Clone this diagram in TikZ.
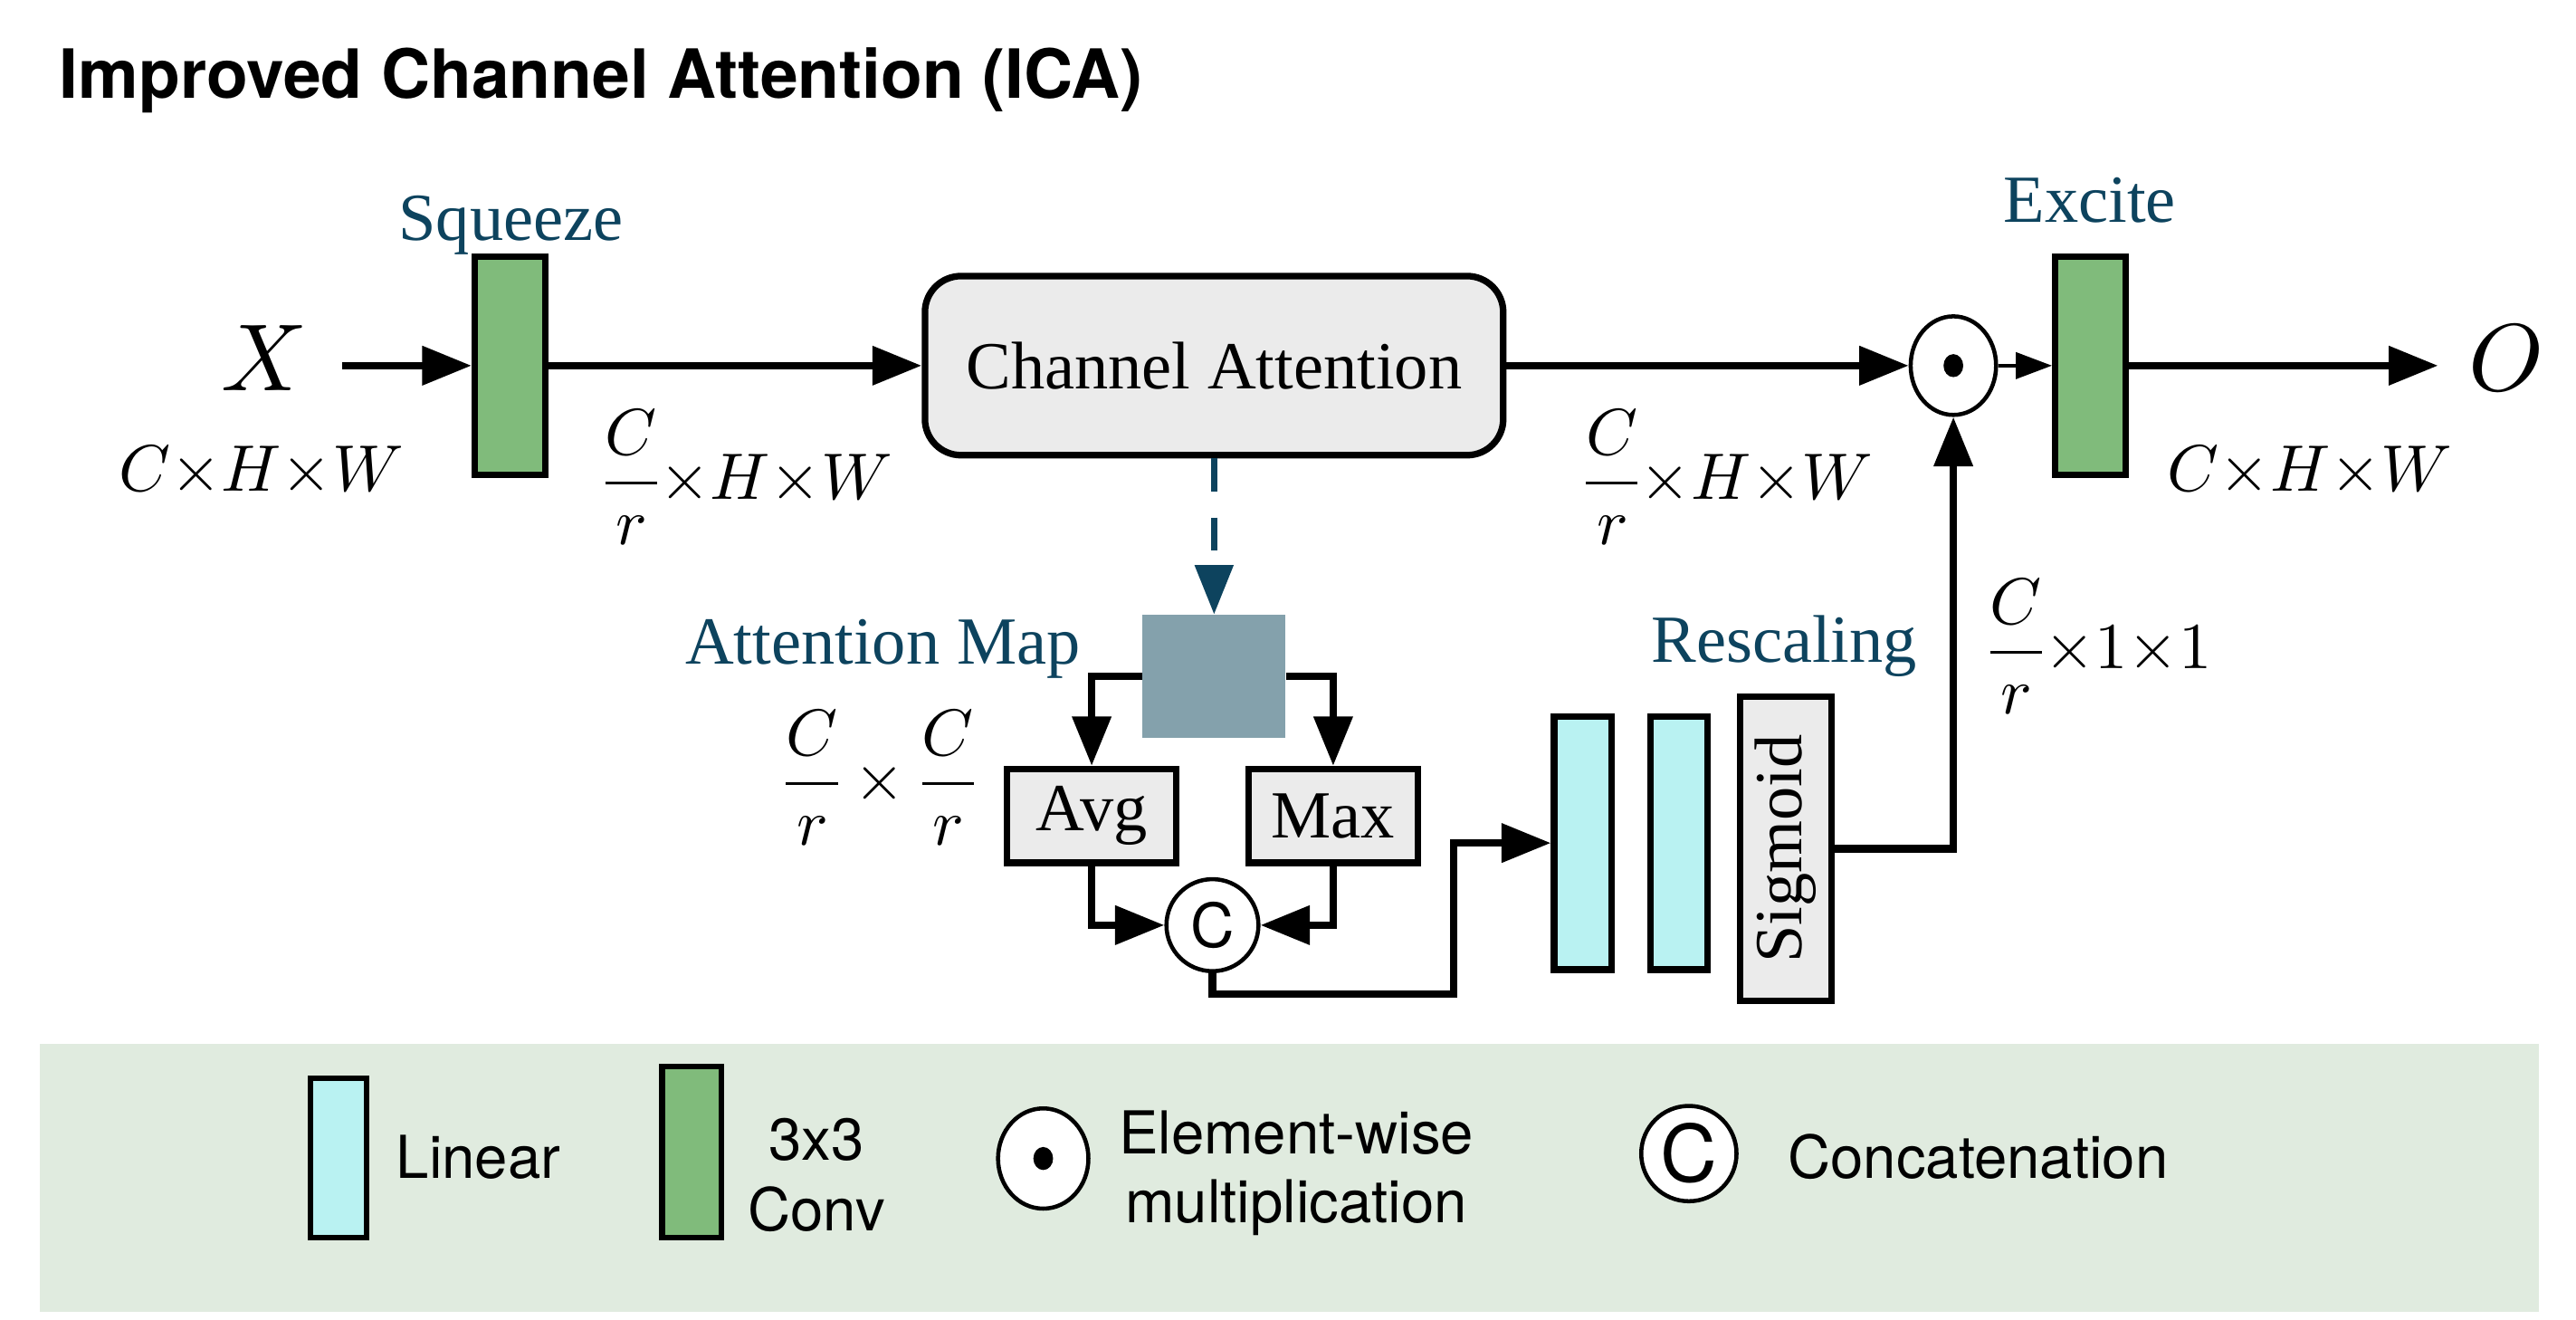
\documentclass[tikz,border=0pt]{standalone}
\usepackage{fontspec}
\usepackage{unicode-math}
\setmainfont{Liberation Serif}
\setmathfont{Latin Modern Math}
\newfontfamily\hel{TeX Gyre Heros}
\usetikzlibrary{arrows.meta,shapes.geometric}
\definecolor{tealtxt}{RGB}{13,67,94}
\definecolor{convgreen}{RGB}{128,187,123}
\definecolor{lincyan}{RGB}{185,242,242}
\definecolor{boxgray}{RGB}{235,235,235}
\definecolor{mapblue}{RGB}{132,161,172}
\definecolor{legbg}{RGB}{224,235,223}
\begin{document}
\begin{tikzpicture}[x=1pt,y=-1pt,
  arr/.style={-{Triangle[length=30pt,width=23pt]}, line width=4.5pt},
  smallarr/.style={-{Triangle[length=22pt,width=16pt]}, line width=2pt},
  dasharr/.style={-{Triangle[length=30pt,width=23pt]}, line width=3.5pt, color=tealtxt, dash pattern=on 20pt off 16pt},
  convbox/.style={draw, line width=4pt, fill=convgreen, minimum width=43pt, minimum height=133pt, inner sep=0pt},
  linbox/.style={draw, line width=4pt, fill=lincyan, minimum width=35pt, minimum height=154pt, inner sep=0pt},
  serifbig/.style={font=\fontsize{41}{48}\selectfont},
  teallbl/.style={serifbig, text=tealtxt, inner sep=0pt},
  mlbl/.style={font=\fontsize{40}{48}\selectfont, inner sep=0pt},
  bigm/.style={font=\fontsize{58}{68}\selectfont, inner sep=0pt},
  grayrect/.style={draw, line width=4pt, fill=boxgray, inner sep=0pt},
  odot/.style={ellipse, draw, line width=2.5pt, fill=white, minimum width=52pt, minimum height=60pt, inner sep=0pt},
  ccirc/.style={circle, draw, line width=2.5pt, fill=white, minimum size=56pt, inner sep=0pt, font={\hel\fontsize{37}{44}\selectfont}},
  legtxt/.style={font={\hel\fontsize{36}{43}\selectfont}, inner sep=0pt}
]
\useasboundingbox (0,0) rectangle (1568,803);
\fill[white] (0,0) rectangle (1568,803);

% title
\node[anchor=base west, inner sep=0pt, font={\hel\bfseries\fontsize{41.3}{48}\selectfont}] (title) at (36,60) {Improved Channel Attention (ICA)};

% main flow
\node[convbox] (sq) at (310.5,222.5) {};
\node[bigm, anchor=base] (X) at (160,238) {$X$};
\coordinate (xin) at (208,222.5);
\draw[arr] (xin) -- (sq.west);
\node[grayrect, serifbig, rounded corners=22pt, minimum width=352pt, minimum height=109pt] (ca) at (739,222.5) {Channel Attention};
\draw[arr] (sq.east) -- (ca.west);
\node[odot] (od) at (1189,222.5) {};
\fill (od.center) ellipse [x radius=6pt, y radius=7pt];
\draw[arr] (ca.east) -- (od.west);
\node[convbox] (ex) at (1272.5,222.5) {};
\draw[smallarr] (od.east) -- (ex.west);
\coordinate (oend) at (1484,222.5);
\draw[arr] (ex.east) -- (oend);
\node[bigm, anchor=base] (O) at (1525,238) {$O$};

% labels
\node[teallbl, anchor=base] (sqz) at (311,146) {Squeeze};
\node[teallbl, anchor=base] (exl) at (1272,135) {Excite};
\node[teallbl, anchor=base west] (aml) at (417,404) {Attention Map};
\node[teallbl, anchor=base west] (rsl) at (1005,403) {Rescaling};

\node[mlbl, anchor=base west] (d0) at (72,299) {$C{\times}H{\times}W$};
\node[mlbl, anchor=base west] (d1) at (367,304) {$\displaystyle\frac{C}{r}{\times}H{\times}W$};
\node[mlbl, anchor=base west] (d2) at (964,304) {$\displaystyle\frac{C}{r}{\times}H{\times}W$};
\node[mlbl, anchor=base west] (d3) at (1319,299) {$C{\times}H{\times}W$};
\node[mlbl, anchor=base west] (d4) at (1210,407) {$\displaystyle\frac{C}{r}{\times}1{\times}1$};
\node[mlbl, anchor=base west] (d5) at (477,487) {$\displaystyle\frac{C}{r}\times\frac{C}{r}$};

% attention map branch
\node[fill=mapblue, minimum width=87pt, minimum height=75pt, inner sep=0pt] (am) at (739,411.5) {};
\draw[dasharr] (ca.south) -- (am.north);
\node[grayrect, serifbig, minimum width=103pt, minimum height=57pt] (avg) at (664.5,496.5) {Avg};
\node[grayrect, serifbig, minimum width=103pt, minimum height=57pt] (max) at (811.5,496.5) {Max};
\draw[arr] (am.west) -| (avg.north);
\draw[arr] (am.east) -| (max.north);
\node[ccirc] (cc) at (738,563) {C};
\draw[arr] (avg.south) |- (cc.west);
\draw[arr] (max.south) |- (cc.east);

% rescaling
\node[linbox] (l1) at (963.5,513) {};
\node[linbox] (l2) at (1022,513) {};
\node[grayrect, minimum width=56pt, minimum height=185pt] (sg) at (1087,516.5) {};
\node[serifbig, rotate=90, inner sep=0pt] (sgt) at (sg.center) {Sigmoid};
\coordinate (j1) at (885,605);
\draw[arr] (cc.south) |- (j1) |- (l1.west);
\draw[arr] (sg.east) -| (od.south);

% legend
\node[fill=legbg, minimum width=1521pt, minimum height=163pt, inner sep=0pt, anchor=north west] (leg) at (24,635) {};
\node[linbox, line width=3.5pt, minimum width=34pt, minimum height=97pt] (lgl) at (206,704.5) {};
\node[legtxt, anchor=base west] (lgltxt) at (241,717) {Linear};
\node[convbox, line width=3.5pt, minimum width=36pt, minimum height=104pt] (lgc) at (421,701) {};
\node[legtxt, anchor=base] (lgc1) at (497,706) {3x3};
\node[legtxt, anchor=base] (lgc2) at (497,749) {Conv};
\node[odot, minimum width=55pt, minimum height=61pt] (lgo) at (635,705) {};
\fill (lgo.center) ellipse [x radius=6pt, y radius=7pt];
\node[legtxt, anchor=base] (lgo1) at (789,702) {Element-wise};
\node[legtxt, anchor=base] (lgo2) at (789,744) {multiplication};
\node[ccirc, minimum size=58pt, font={\hel\fontsize{48}{56}\selectfont}] (lgcc) at (1028,702) {C};
\node[legtxt, anchor=base west] (lgcctxt) at (1088,717) {Concatenation};
\end{tikzpicture}
\end{document}
